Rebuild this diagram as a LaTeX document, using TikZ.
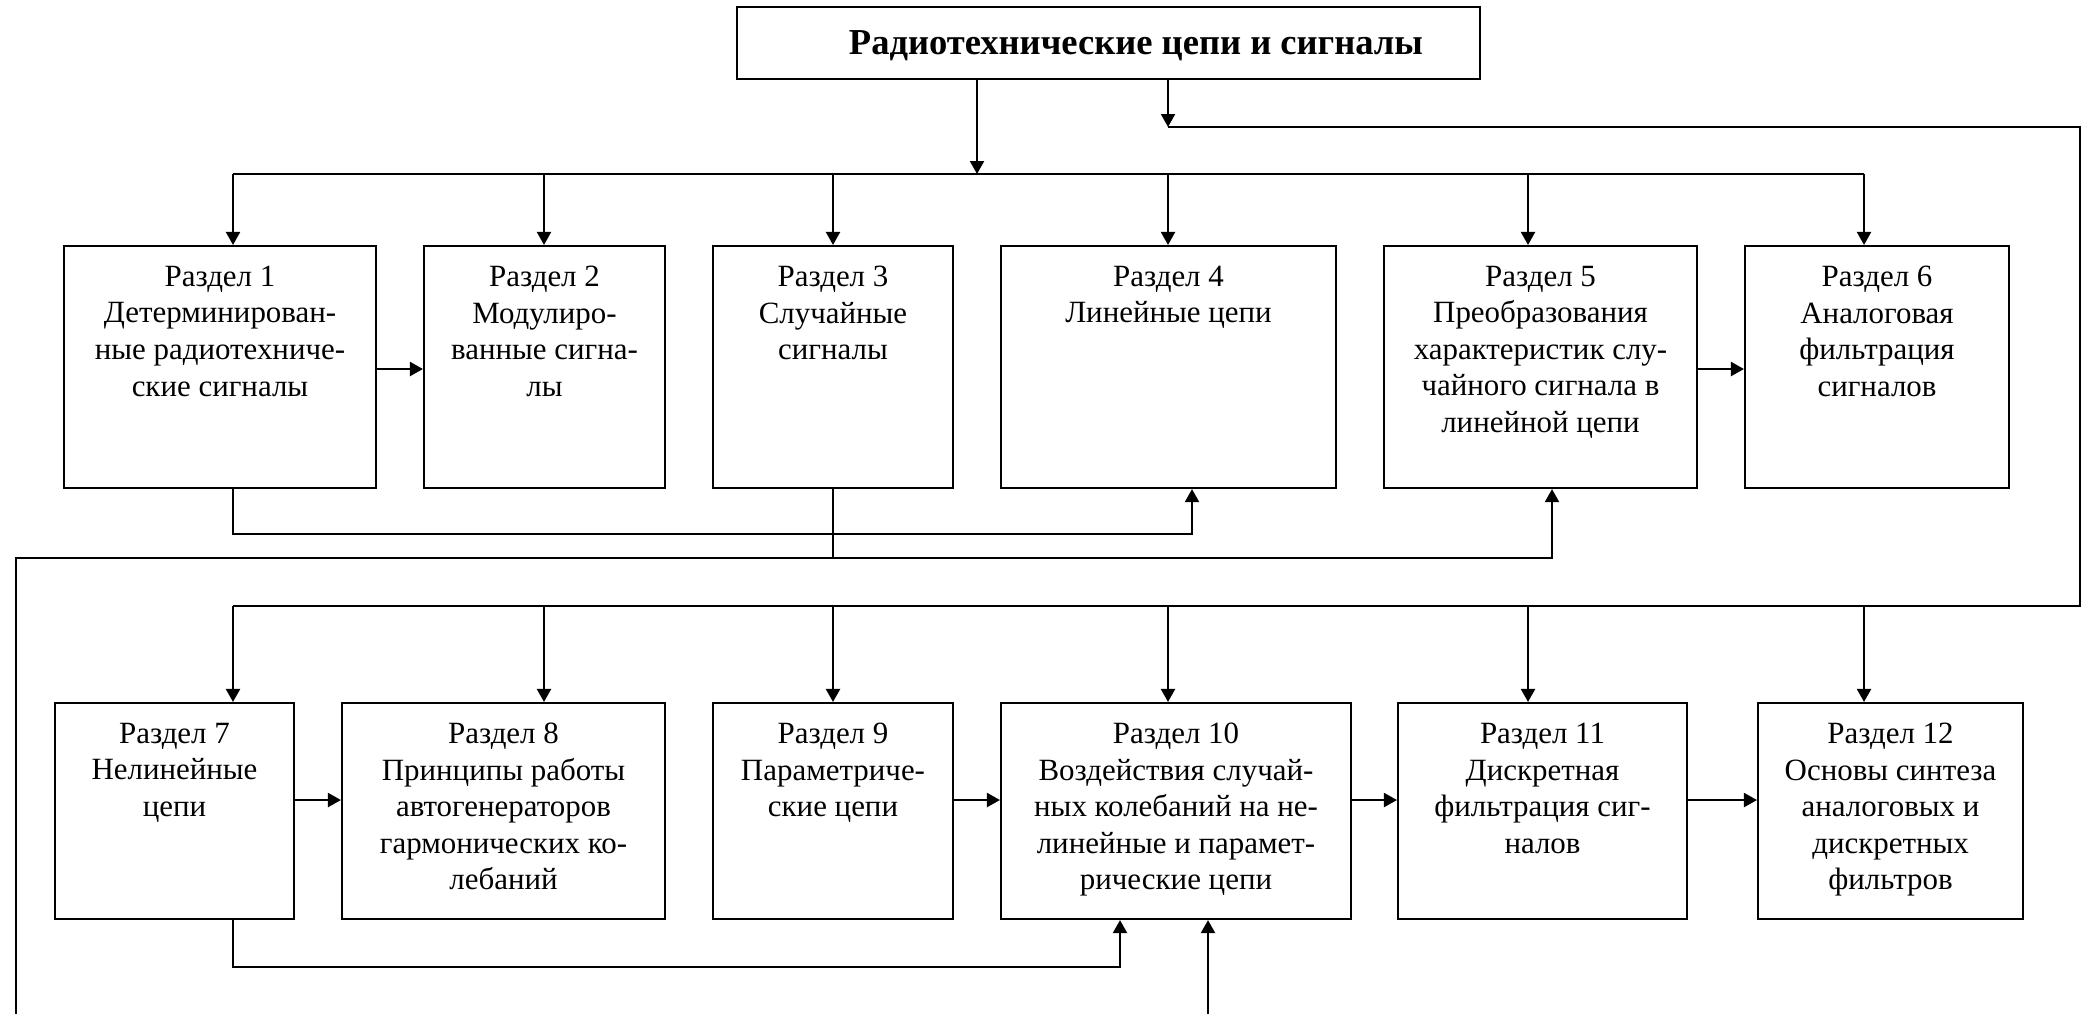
\documentclass[tikz,border=0pt]{standalone}
\usepackage{fontspec}
\setmainfont{Liberation Serif}
\usetikzlibrary{arrows.meta,positioning}

\tikzset{
  blok/.style={draw, line width=0.6pt, inner sep=0pt},
  tekst/.style={align=center, inner sep=0pt, font=\fontsize{8.8}{10.4}\selectfont},
  strelka/.style={-{Triangle[length=1.3mm,width=1.4mm]}},
}

\begin{document}
\begin{tikzpicture}[x=0.1mm, y=-0.1mm, line width=0.6pt]
  \useasboundingbox (0,0) rectangle (2089,1014);
  % Title
  \node[blok, minimum width=74.3mm, minimum height=7.2mm] (glav) at (1108.5,43) {};
  \node[font=\bfseries\fontsize{10.4}{12}\selectfont, inner sep=0pt, anchor=base] (glavt) at (1136,54) {Радиотехнические цепи и сигналы};
  % Row 1
  \node[blok, minimum width=31.2mm, minimum height=24.2mm] (r1) at (220,367) {};
  \node[blok, minimum width=24.1mm, minimum height=24.2mm] (r2) at (544.5,367) {};
  \node[blok, minimum width=24.0mm, minimum height=24.2mm] (r3) at (833,367) {};
  \node[blok, minimum width=33.5mm, minimum height=24.2mm] (r4) at (1168.5,367) {};
  \node[blok, minimum width=31.3mm, minimum height=24.2mm] (r5) at (1540.5,367) {};
  \node[blok, minimum width=26.4mm, minimum height=24.2mm] (r6) at (1877,367) {};
  \node[tekst, below=2mm of r1.north] (t1) {Раздел 1\\Детерминирован-\\ные радиотехниче-\\ские сигналы};
  \node[tekst, below=2mm of r2.north] (t2) {Раздел 2\\Модулиро-\\ванные сигна-\\лы};
  \node[tekst, below=2mm of r3.north] (t3) {Раздел 3\\Случайные\\сигналы};
  \node[tekst, below=2mm of r4.north] (t4) {Раздел 4\\Линейные цепи};
  \node[tekst, below=2mm of r5.north] (t5) {Раздел 5\\Преобразования\\характеристик слу-\\чайного сигнала в\\линейной цепи};
  \node[tekst, below=2mm of r6.north] (t6) {Раздел 6\\Аналоговая\\фильтрация\\сигналов};
  % Row 2
  \node[blok, minimum width=23.9mm, minimum height=21.6mm] (r7) at (174.5,811) {};
  \node[blok, minimum width=32.3mm, minimum height=21.6mm] (r8) at (503.5,811) {};
  \node[blok, minimum width=24.0mm, minimum height=21.6mm] (r9) at (833,811) {};
  \node[blok, minimum width=35.0mm, minimum height=21.6mm] (r10) at (1176,811) {};
  \node[blok, minimum width=28.9mm, minimum height=21.6mm] (r11) at (1542.5,811) {};
  \node[blok, minimum width=26.5mm, minimum height=21.6mm] (r12) at (1890.5,811) {};
  \node[tekst, below=2mm of r7.north] (t7) {Раздел 7\\Нелинейные\\цепи};
  \node[tekst, below=2mm of r8.north] (t8) {Раздел 8\\Принципы работы\\автогенераторов\\гармонических ко-\\лебаний};
  \node[tekst, below=2mm of r9.north] (t9) {Раздел 9\\Параметриче-\\ские цепи};
  \node[tekst, below=2mm of r10.north] (t10) {Раздел 10\\Воздействия случай-\\ных колебаний на не-\\линейные и парамет-\\рические цепи};
  \node[tekst, below=2mm of r11.north] (t11) {Раздел 11\\Дискретная\\фильтрация сиг-\\налов};
  \node[tekst, below=2mm of r12.north] (t12) {Раздел 12\\Основы синтеза\\аналоговых и\\дискретных\\фильтров};
  % free ends at the lower edge
  \coordinate (niz1) at (16,1014);
  \coordinate (niz2) at (1208,1014);
  % Buses from the title
  \draw[strelka] (977,0 |- glav.south) -- (977,174);
  \draw[strelka] (1168,0 |- glav.south) -- (1168,127);
  \draw (1168,127) -- (2080,127) -- (2080,606) -- (233,606);
  \draw (233,174) -- (1864,174);
  \foreach \x/\n in {233/r1, 544/r2, 833/r3, 1168/r4, 1528/r5, 1864/r6}
    \draw[strelka] (\x,174) -- (\x,0 |- \n.north);
  \foreach \x/\n in {233/r7, 544/r8, 833/r9, 1168/r10, 1528/r11, 1864/r12}
    \draw[strelka] (\x,606) -- (\x,0 |- \n.north);
  % Links inside the rows
  \draw[strelka] (r1.east |- 0,369) -- (r2.west |- 0,369);
  \draw[strelka] (r5.east |- 0,369) -- (r6.west |- 0,369);
  \draw[strelka] (r7.east |- 0,800) -- (r8.west |- 0,800);
  \draw[strelka] (r9.east |- 0,800) -- (r10.west |- 0,800);
  \draw[strelka] (r10.east |- 0,800) -- (r11.west |- 0,800);
  \draw[strelka] (r11.east |- 0,800) -- (r12.west |- 0,800);
  % Links under the rows
  \draw[strelka] (233,0 |- r1.south) -- (233,534) -- (1192,534) -- (1192,0 |- r4.south);
  \draw (r3.south) -- (833,558);
  \draw[strelka] (niz1) -- (16,558) -- (1552,558) -- (1552,0 |- r5.south);
  \draw[strelka] (233,0 |- r7.south) -- (233,967) -- (1120,967) -- (1120,0 |- r10.south);
  \draw[strelka] (niz2) -- (1208,0 |- r10.south);
\end{tikzpicture}
\end{document}
